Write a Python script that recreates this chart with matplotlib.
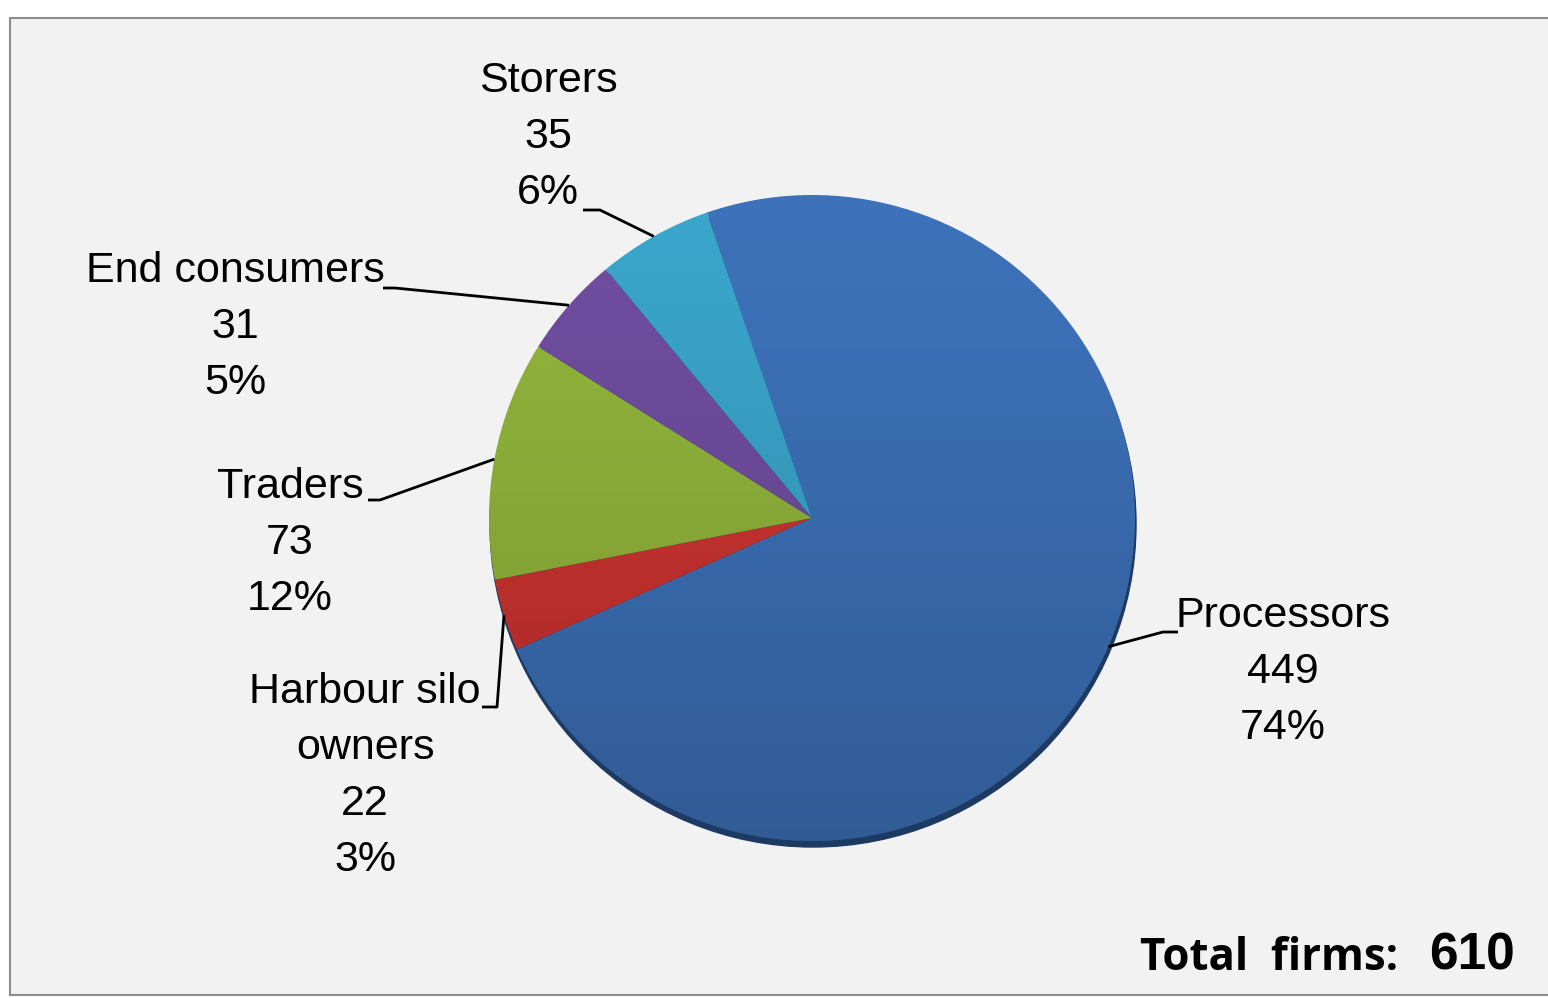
import matplotlib.pyplot as plt
import matplotlib.patches as mpatches
import numpy as np

# firm counts per category, in drawing order (clockwise from the top)
categories = ['Processors', 'Harbour silo\nowners', 'Traders', 'End consumers', 'Storers']
firms = [449, 22, 73, 31, 35]
pct_labels = ['74%', '3%', '12%', '5%', '6%']
colors = ['#3d72ba', '#cf3431', '#93b73c', '#714ea1', '#3aa6cb']
total_firms = 610

W, H = 1548, 998
fig = plt.figure(figsize=(W / 100, H / 100), dpi=100)
fig.patch.set_facecolor('white')
ax = fig.add_axes([0, 0, 1, 1])

# panel background + border
ax.add_patch(mpatches.Rectangle((10, 3), W, H - 21, facecolor='#f2f2f2',
                                edgecolor='#8c8c8c', lw=1.5, zorder=0))

cx, cy, r = 812, 480, 323

# dark rim under the pie
ax.add_patch(mpatches.Circle((cx + 1, cy - 6), r, color='#1d3a63', zorder=1))

wedges, _ = ax.pie(firms, colors=colors, startangle=109, counterclock=False,
                   center=(cx, cy), radius=r, frame=True,
                   wedgeprops=dict(linewidth=0, zorder=2))

# soft vertical shading over the pie, darker towards the bottom
grad = np.linspace(0, 1, 256).reshape(-1, 1)
shade = np.zeros((256, 1, 4))
shade[..., 3] = 0.2 * grad ** 1.2
im = ax.imshow(shade, extent=(cx - r, cx + r, cy - r, cy + r), origin='upper',
               aspect='auto', zorder=3, interpolation='bilinear')
im.set_clip_path(mpatches.Circle((cx, cy), r, transform=ax.transData))

ax.set_xlim(0, W)
ax.set_ylim(0, H)
ax.set_aspect('equal')
ax.axis('off')

# label layout: text centre, elbow point, line end near text
label_pos = [(1283, 326), (365, 222), (290, 455), (235, 671), (548, 861)]
elbows = [((1163, 366), (1178, 366)), ((497, 291), (482, 291)),
          ((380, 498), (368, 498)), ((395, 710), (383, 710)),
          ((600, 788), (583, 788))]

lab_font = ['Liberation Sans Narrow', 'Liberation Sans', 'DejaVu Sans']
for w, cat, n, pct, pos, (e1, e2) in zip(wedges, categories, firms, pct_labels,
                                         label_pos, elbows):
    mid = np.deg2rad((w.theta1 + w.theta2) / 2)
    px, py = cx + r * np.cos(mid), cy + r * np.sin(mid)
    ax.plot([px, e1[0], e2[0]], [py, e1[1], e2[1]], color='black', lw=2,
            zorder=4, solid_capstyle='butt')
    ax.text(pos[0], pos[1], f'{cat}\n{n}\n{pct}', ha='center', va='center',
            fontsize=31, family=lab_font, linespacing=1.52, zorder=5)

ax.text(1398, 28, 'Total  firms:', ha='right', va='baseline', fontsize=31.5,
        fontweight='bold', family=['Open Sans', 'DejaVu Sans'])
ax.text(1515, 28, str(total_firms), ha='right', va='baseline', fontsize=37,
        fontweight='bold', family=lab_font)

fig.savefig('out.png', dpi=100, facecolor=fig.get_facecolor())
